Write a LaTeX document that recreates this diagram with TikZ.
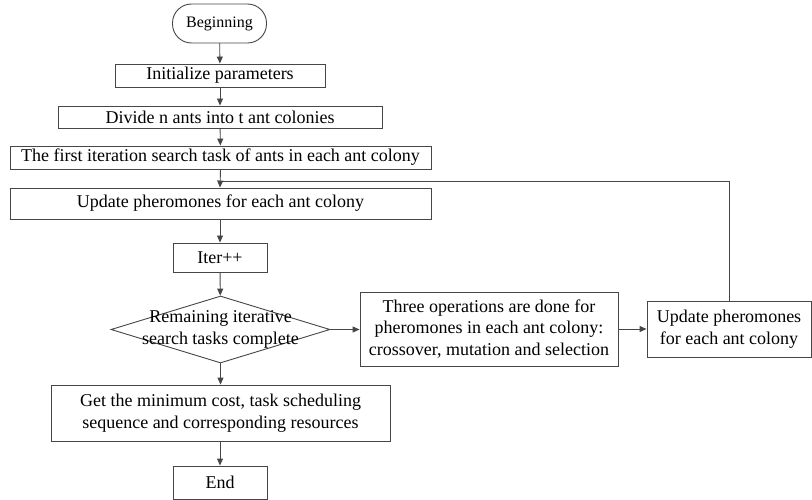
\documentclass[tikz,border=0pt]{standalone}
\usepackage{fontspec}
\setmainfont{Liberation Serif}
\usetikzlibrary{shapes.geometric,arrows.meta}
\definecolor{ln}{RGB}{70,70,70}
\begin{document}
\begin{tikzpicture}[x=1pt,y=-1pt,
  every node/.style={font=\fontsize{18}{21.8}\selectfont, inner sep=0pt, align=center},
  box/.style={draw=ln, line width=0.9pt, rectangle},
  arr/.style={draw=ln, line width=0.9pt, -{Triangle[length=7pt,width=6pt]}},
  lnk/.style={draw=ln, line width=0.9pt}]
\useasboundingbox (0,0) rectangle (812,500);
\node[box, rounded corners=19pt, minimum width=94pt, minimum height=39pt, font=\fontsize{16}{19}\selectfont] (begin) at (219.5,23.5) {Beginning};
\node[box, minimum width=210pt, minimum height=23pt] (init) at (220,75.5) {Initialize parameters};
\node[box, minimum width=324pt, minimum height=22pt] (divide) at (220,117) {Divide n ants into t ant colonies};
\node[box, minimum width=421pt, minimum height=23pt] (first) at (220.5,157.5) {The first iteration search task of ants in each ant colony};
\node[box, minimum width=421pt, minimum height=31pt] (upd) at (220.5,203.5) {Update pheromones for each ant colony};
\node[box, minimum width=94pt, minimum height=29pt] (iter) at (220,257.5) {Iter++};
\node[draw=ln, line width=0.9pt, diamond, minimum width=219pt, minimum height=67pt] (dec) at (220.5,329.5) {};
\node (declabel) at (dec.center) {Remaining iterative\\search tasks complete};
\node[box, minimum width=258pt, minimum height=74pt] (three) at (489,329) {Three operations are done for\\pheromones in each ant colony:\\crossover, mutation and selection};
\node[box, minimum width=164pt, minimum height=56pt] (upd2) at (729,329) {Update pheromones\\for each ant colony};
\node[box, minimum width=339pt, minimum height=56pt] (getmin) at (220.5,413) {Get the minimum cost, task scheduling\\sequence and corresponding resources};
\node[box, minimum width=94pt, minimum height=33pt] (end) at (220,482.5) {End};
\coordinate (join) at (220,181);
\draw[arr] (begin) -- (init);
\draw[arr] (init) -- (divide);
\draw[arr] (divide) -- (first);
\draw[arr] (first.south -| upd.north) -- (upd.north -| join);
\draw[arr] (upd.south -| iter.north) -- (iter);
\draw[arr] (iter) -- (dec);
\draw[arr] (dec.south) -- (getmin.north -| dec.south);
\draw[arr] (getmin.south -| end.north) -- (end);
\draw[arr] (dec.east) -- (three.west |- dec.east);
\draw[arr] (three) -- (upd2);
\draw[lnk] (upd2.north) |- (join);
\end{tikzpicture}
\end{document}
